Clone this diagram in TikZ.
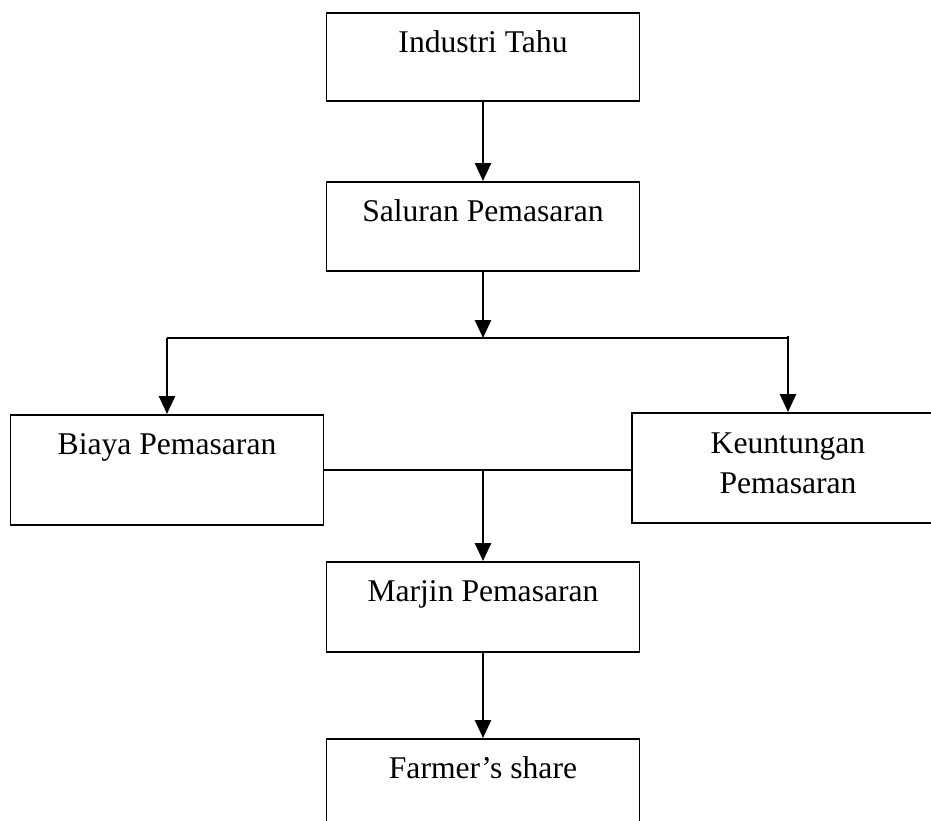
\documentclass[tikz,border=0pt]{standalone}
\usepackage{fontspec}
\setmainfont{Liberation Serif}
\usetikzlibrary{arrows.meta}
\usetikzlibrary{positioning}

\begin{document}
\begin{tikzpicture}[x=0.02cm,y=-0.02cm,
    kotak/.style={draw,line width=1.1pt,anchor=north,inner sep=0pt,
      minimum width=6.26cm,text height=0.8cm,align=center,
      font=\fontsize{18}{23.3}\selectfont},
    garis/.style={line width=1.1pt},
    panah/.style={line width=1.5pt,-{Triangle[length=0.36cm,width=0.32cm]}}]
        \useasboundingbox (0,0) rectangle (931,821);

        \node[kotak,text depth=0.96cm] (industri) at (483,12) {Industri Tahu};
        \node[kotak,text depth=0.98cm] (saluran) at (483,181) {Saluran Pemasaran};
        \node[kotak,text depth=1.4cm] (biaya) at (167,414) {Biaya Pemasaran};
        \node[kotak,text height=1.62cm,text depth=0.58cm] (untung) at (788,412) {Keuntungan\\Pemasaran};
        \node[kotak,text depth=1.0cm] (marjin) at (483,561) {Marjin Pemasaran};
        \node[kotak,text depth=1.0cm] (farmer) at (483,738) {Farmer’s share};

        \coordinate (cabang) at (483,338);
        \coordinate (kiri) at (167,338);
        \coordinate (kanan) at (788,338);

        \draw[panah] (industri.south) -- (saluran.north);
        \draw[panah] (saluran.south) -- (cabang);
        \draw[garis] (kiri) -- (kanan);
        \draw[panah] (kiri) -- (biaya.north);
        \draw[panah] ([yshift=0.04cm]kanan) -- (untung.north);

        \draw[garis] (biaya.east) -- (biaya.east -| untung.west) coordinate (temu);
        \coordinate (tengah) at (biaya.east -| marjin.north);
        \draw[panah] (tengah) -- (marjin.north);
        \draw[panah] (marjin.south) -- (farmer.north);
      \end{tikzpicture}
\end{document}
